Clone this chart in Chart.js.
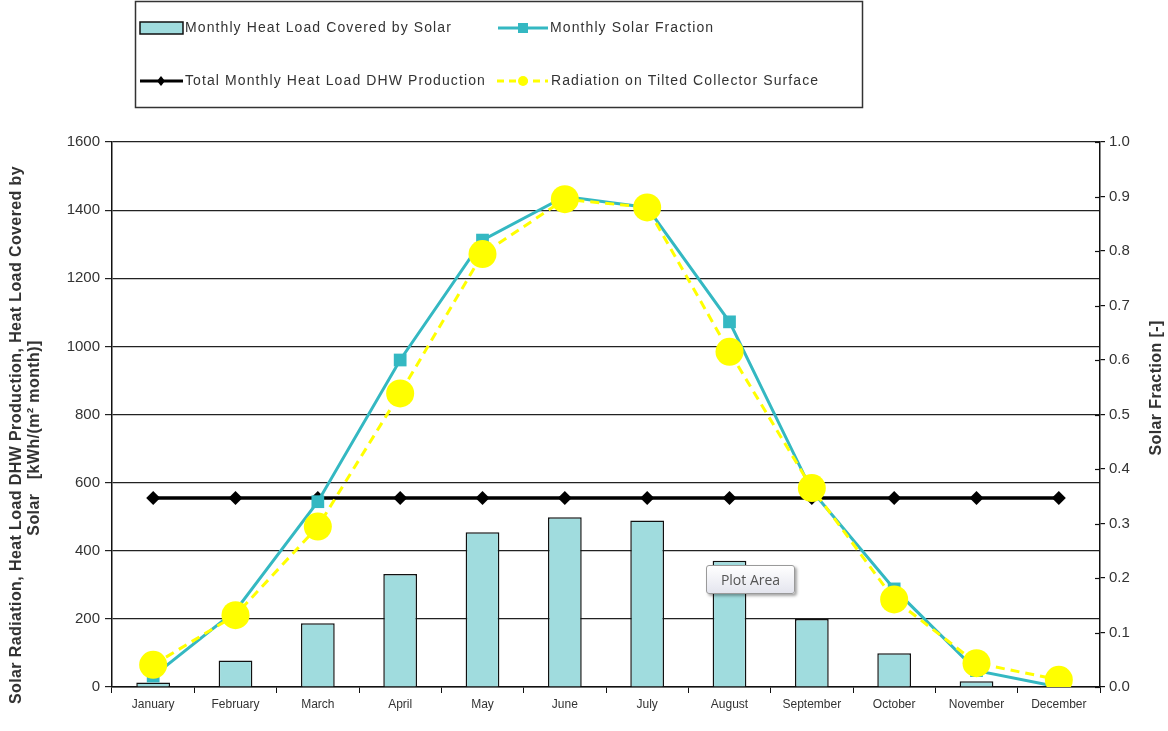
<!DOCTYPE html>
<html>
<head>
<meta charset="utf-8">
<script src="https://cdn.jsdelivr.net/npm/chart.js@4"></script>
<style>
  body { margin: 0; background: #fff; }
  #wrap { position: relative; width: 1168px; height: 731px; }
  #tip {
    position: absolute; left: 706px; top: 565px; width: 87px; height: 27px;
    border: 1px solid #9a9a9a; border-radius: 3px;
    background: linear-gradient(#ffffff, #e4e5ee);
    box-shadow: 2px 2px 3px rgba(0,0,0,0.35);
    font: 14px "Open Sans", "DejaVu Sans", sans-serif; color: #555;
    line-height: 27px; text-align: center;
  }
</style>
</head>
<body>
<div id="wrap">
  <canvas id="solarChart"></canvas>
  <div id="tip">Plot Area</div>
</div>
<script>
var months = ['January', 'February', 'March', 'April', 'May', 'June',
              'July', 'August', 'September', 'October', 'November', 'December'];
// kWh/(m2 month)
var heatCovered = [13, 78, 187, 332, 454, 498, 489, 371, 200, 99, 17, 0];
var totalLoad = [555, 555, 555, 555, 555, 555, 555, 555, 555, 555, 555, 555];
var radiation = [65, 211, 471, 862, 1271, 1432, 1408, 984, 584, 257, 70, 21];
// [-]
var solarFraction = [0.02, 0.14, 0.34, 0.60, 0.82, 0.90, 0.88, 0.67, 0.36, 0.18, 0.03, 0.00];

var barColor = 'rgb(160, 220, 222)';
var tealColor = 'rgb(52, 184, 194)';
var yellowColor = 'rgb(255, 255, 0)';
var textColor = '#333';

Chart.defaults.font.family = '"Liberation Sans", Arial, sans-serif';
Chart.defaults.color = textColor;

// legend box, axis titles and the crossing ticks of the right axis
var extras = {
    id: 'extras',
    afterDraw: function (chart) {
        var ctx = chart.ctx;
        var ds = chart.data.datasets;
        ctx.save();

        // legend frame
        ctx.strokeStyle = '#333';
        ctx.lineWidth = 1.5;
        ctx.strokeRect(135.5, 1.5, 727, 106);

        ctx.font = '14px "Liberation Sans", Arial, sans-serif';
        ctx.letterSpacing = '1.1px';
        ctx.fillStyle = textColor;
        ctx.textBaseline = 'middle';
        ctx.textAlign = 'left';

        // bars
        ctx.fillStyle = barColor;
        ctx.fillRect(140, 22, 43, 12);
        ctx.strokeStyle = '#111';
        ctx.lineWidth = 1.5;
        ctx.strokeRect(140, 22, 43, 12);
        ctx.fillStyle = textColor;
        ctx.fillText(ds[3].label, 185, 28);

        // solar fraction
        ctx.strokeStyle = tealColor;
        ctx.lineWidth = 3;
        ctx.beginPath(); ctx.moveTo(498, 28); ctx.lineTo(548, 28); ctx.stroke();
        ctx.fillStyle = tealColor;
        ctx.fillRect(518, 23, 10, 10);
        ctx.fillStyle = textColor;
        ctx.fillText(ds[1].label, 550, 28);

        // total load
        ctx.strokeStyle = '#000';
        ctx.beginPath(); ctx.moveTo(140, 81); ctx.lineTo(183, 81); ctx.stroke();
        ctx.fillStyle = '#000';
        ctx.beginPath();
        ctx.moveTo(161, 76); ctx.lineTo(165, 81); ctx.lineTo(161, 86); ctx.lineTo(157, 81);
        ctx.closePath(); ctx.fill();
        ctx.fillStyle = textColor;
        ctx.fillText(ds[2].label, 185, 81);

        // radiation
        ctx.strokeStyle = yellowColor;
        ctx.setLineDash([7, 5]);
        ctx.beginPath(); ctx.moveTo(497, 81); ctx.lineTo(548, 81); ctx.stroke();
        ctx.setLineDash([]);
        ctx.fillStyle = yellowColor;
        ctx.beginPath(); ctx.arc(523, 81, 5, 0, Math.PI * 2); ctx.fill();
        ctx.fillStyle = textColor;
        ctx.fillText(ds[0].label, 551, 81);

        // axis titles
        ctx.font = 'bold 16px "Liberation Sans", Arial, sans-serif';
        ctx.letterSpacing = '0.4px';
        ctx.textAlign = 'center';
        ctx.fillStyle = textColor;
        ctx.save();
        ctx.translate(17, 435);
        ctx.rotate(-Math.PI / 2);
        ctx.fillText('Solar Radiation, Heat Load DHW Production, Heat Load Covered by', 0, 0);
        ctx.restore();
        ctx.save();
        ctx.translate(35, 438);
        ctx.rotate(-Math.PI / 2);
        ctx.fillText('Solar   [kWh/(m\u00b2 month)]', 0, 0);
        ctx.restore();
        ctx.save();
        ctx.translate(1157, 388);
        ctx.rotate(-Math.PI / 2);
        ctx.fillText('Solar Fraction [-]', 0, 0);
        ctx.restore();

        // right axis ticks cross the axis line
        var y1 = chart.scales.y1;
        ctx.strokeStyle = '#111';
        ctx.lineWidth = 1.2;
        y1.ticks.forEach(function (t, i) {
            var py = Math.round(y1.getPixelForTick(i)) + 0.5;
            ctx.beginPath();
            ctx.moveTo(y1.left - 5, py);
            ctx.lineTo(y1.left, py);
            ctx.stroke();
        });
        ctx.restore();
    }
};

var solarChart = new Chart(document.getElementById('solarChart'), {
    type: 'bar',
    data: {
        labels: months,
        datasets: [
            {
                type: 'line',
                label: 'Radiation on Tilted Collector Surface',
                data: radiation,
                yAxisID: 'y',
                borderColor: yellowColor,
                backgroundColor: yellowColor,
                borderWidth: 3,
                borderDash: [9, 6],
                pointStyle: 'circle',
                pointRadius: 14,
                pointBorderWidth: 0,
                order: 0
            },
            {
                type: 'line',
                label: 'Monthly Solar Fraction',
                data: solarFraction,
                yAxisID: 'y1',
                borderColor: tealColor,
                backgroundColor: tealColor,
                borderWidth: 3,
                pointStyle: 'rect',
                pointRadius: 9,
                pointBorderWidth: 0,
                order: 1
            },
            {
                type: 'line',
                label: 'Total Monthly Heat Load DHW Production',
                data: totalLoad,
                yAxisID: 'y',
                borderColor: '#000',
                backgroundColor: '#000',
                borderWidth: 3.5,
                pointStyle: 'rectRot',
                pointRadius: 7,
                pointBorderWidth: 0,
                order: 2
            },
            {
                type: 'bar',
                label: 'Monthly Heat Load Covered by Solar',
                data: heatCovered,
                yAxisID: 'y',
                backgroundColor: barColor,
                borderColor: '#111',
                borderWidth: 1.5,
                barPercentage: 0.41,
                categoryPercentage: 1,
                order: 3
            }
        ]
    },
    options: {
        responsive: true,
        maintainAspectRatio: false,
        animation: false,
        layout: { padding: { top: 142, left: 0, right: 0, bottom: 0 } },
        plugins: {
            legend: { display: false },
            tooltip: { enabled: false }
        },
        scales: {
            x: {
                offset: true,
                grid: {
                    offset: true,
                    drawOnChartArea: false,
                    color: '#111',
                    tickLength: 6
                },
                border: { color: '#111', width: 1.5 },
                ticks: { font: { size: 12 }, color: textColor, padding: 4, maxRotation: 0 },
                afterFit: function (s) { s.height = 44; }
            },
            y: {
                position: 'left',
                min: 0,
                max: 1600,
                ticks: {
                    stepSize: 200,
                    font: { size: 15 },
                    color: textColor,
                    padding: 5,
                    callback: function (v) { return String(v); }
                },
                grid: { color: '#222', lineWidth: 1.2, tickLength: 7 },
                border: { color: '#111', width: 1.5 },
                afterFit: function (s) { s.width = 112; }
            },
            y1: {
                position: 'right',
                min: 0,
                max: 1,
                ticks: {
                    stepSize: 0.1,
                    font: { size: 15 },
                    color: textColor,
                    padding: 4,
                    callback: function (v) { return v.toFixed(1); }
                },
                grid: { drawOnChartArea: false, color: '#111', lineWidth: 1.2, tickLength: 5 },
                border: { color: '#111', width: 1.5 },
                afterFit: function (s) { s.width = 68; }
            }
        }
    },
    plugins: [extras]
});
</script>
</body>
</html>
